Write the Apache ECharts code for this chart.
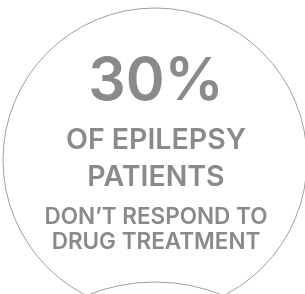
<!DOCTYPE html>
<html>
<head>
<meta charset="utf-8">
<script src="https://cdn.jsdelivr.net/npm/echarts@6/dist/echarts.min.js"></script>
<style>
  html, body { margin: 0; padding: 0; background: #fff; }
  #main { width: 305px; height: 294px; }
</style>
</head>
<body>
<div id="main"></div>
<script>
var myChart = echarts.init(document.getElementById("main"));

// headline figure and the caption lines under it
var headline = "30%";
var captionLines = ["OF EPILEPSY", "PATIENTS", "DON\u2019T RESPOND TO", "DRUG TREATMENT"];
var captionSizes = [28.5, 28.5, 22.5, 22.5];
var captionTops = [126, 163, 206, 231];

var textColor = "#8a8a8a";
var lineColor = "#a0a0a0";
var font = "Inter";

var elements = [
    // big circle
    {
        type: "circle",
        shape: { cx: 155, cy: 160, r: 152 },
        style: { fill: "none", stroke: lineColor, lineWidth: 1 }
    },
    // next circle peeking in at the bottom
    {
        type: "circle",
        shape: { cx: 155, cy: 464, r: 182 },
        style: { fill: "none", stroke: lineColor, lineWidth: 1 }
    },
    {
        type: "text",
        x: 156,
        y: 53,
        style: {
            text: headline,
            fill: textColor,
            font: "600 59px " + font,
            align: "center",
            verticalAlign: "top"
        }
    }
];

captionLines.forEach(function (line, i) {
    elements.push({
        type: "text",
        x: 156,
        y: captionTops[i],
        style: {
            text: line,
            fill: textColor,
            font: "600 " + captionSizes[i] + "px " + font,
            align: "center",
            verticalAlign: "top"
        }
    });
});

myChart.setOption({
    backgroundColor: "#fff",
    animation: false,
    graphic: { elements: elements }
});
</script>
</body>
</html>
